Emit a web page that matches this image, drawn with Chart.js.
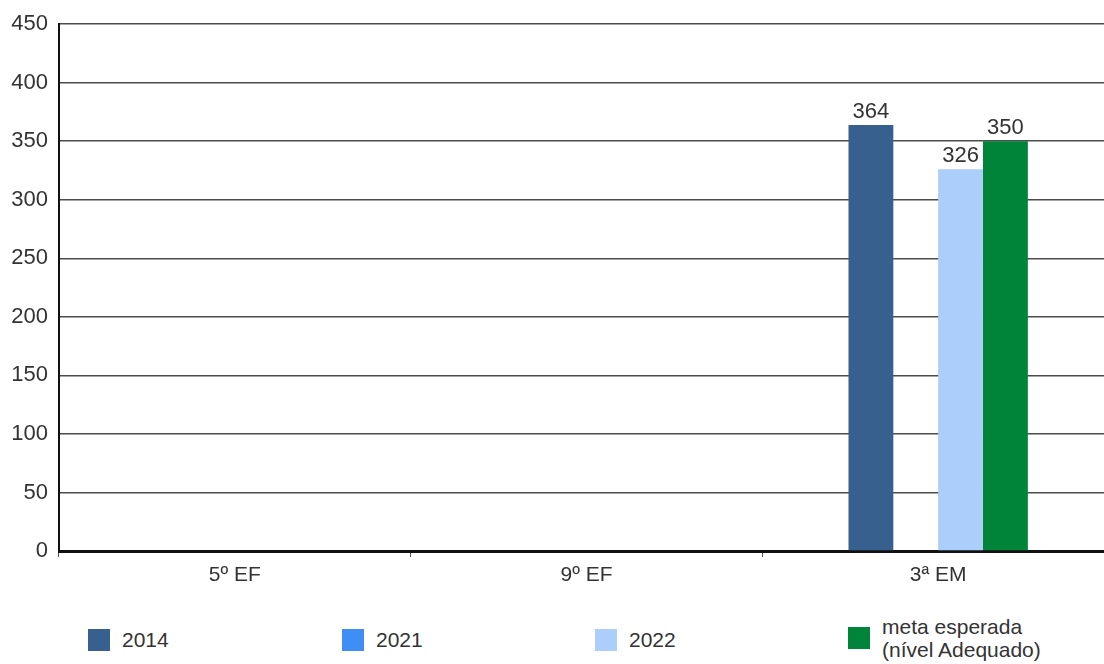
<!DOCTYPE html>
<html>
<head>
<meta charset="utf-8">
<script src="https://cdn.jsdelivr.net/npm/chart.js@4"></script>
<style>
  html, body { margin: 0; padding: 0; background: #fff; overflow: hidden; width: 1104px; height: 664px; }
  #wrap { position: relative; width: 1114px; height: 600px; }
  #legend { position: absolute; top: 617px; left: 0; width: 1104px; height: 47px;
    font-family: "Liberation Sans", Arial, sans-serif; font-size: 21px; color: #333; }
  .item { position: absolute; display: flex; align-items: center; }
  .box { width: 22px; height: 22px; margin-right: 12px; }
  .txt { line-height: 23px; }
</style>
</head>
<body>
<div id="wrap"><canvas id="chart" width="1114" height="600"></canvas></div>
<div id="legend"></div>
<script>
const categories = ['5º EF', '9º EF', '3ª EM'];
const seriesNames = ['2014', '2021', '2022', 'meta esperada\n(nível Adequado)'];
const v2014 = [null, null, 364];
const v2021 = [null, null, null];
const v2022 = [null, null, 326];
const vMeta = [null, null, 350];
const colors = ['#38608f', '#3f8ef5', '#abcefa', '#00843a'];

const font = "'Liberation Sans', Arial, sans-serif";

// etiquetas de valor sobre las barras
const valueLabels = {
  id: 'valueLabels',
  afterDatasetsDraw(chart) {
    const ctx = chart.ctx;
    ctx.save();
    ctx.font = '22px ' + font;
    ctx.fillStyle = '#333';
    ctx.textAlign = 'center';
    ctx.textBaseline = 'bottom';
    chart.data.datasets.forEach((ds, i) => {
      const meta = chart.getDatasetMeta(i);
      meta.data.forEach((bar, j) => {
        const v = ds.data[j];
        if (v == null) return;
        ctx.fillText(String(v), bar.x, bar.y - 2);
      });
    });
    ctx.restore();
  }
};

const ctx = document.getElementById('chart').getContext('2d');
const chart = new Chart(ctx, {
  type: 'bar',
  data: {
    labels: categories,
    datasets: [v2014, v2021, v2022, vMeta].map((d, i) => ({
      label: seriesNames[i],
      data: d,
      backgroundColor: colors[i],
      borderWidth: 0,
      categoryPercentage: 0.51,
      barPercentage: 1
    }))
  },
  options: {
    responsive: false,
    animation: false,
    layout: { padding: { top: 24, left: 0, right: 0, bottom: 0 } },
    plugins: { legend: { display: false }, tooltip: { enabled: false } },
    scales: {
      x: {
        grid: { offset: true, drawOnChartArea: false, drawTicks: true, tickLength: 6, color: '#555', lineWidth: 1 },
        border: { color: '#111', width: 3 },
        ticks: { color: '#333', font: { family: font, size: 21 }, padding: 6 },
        afterFit: s => { s.height = 49; }
      },
      y: {
        min: 0, max: 450,
        grid: { color: '#4d4d4d', lineWidth: 1.6, drawTicks: false },
        border: { color: '#111', width: 2 },
        ticks: { stepSize: 50, color: '#333', font: { family: font, size: 22 }, padding: 11 },
        afterFit: s => { s.width = 59; }
      }
    }
  },
  plugins: [valueLabels]
});

// leyenda
const legend = document.getElementById('legend');
const legendX = [88, 342, 595, 848];
seriesNames.forEach((name, i) => {
  const item = document.createElement('div');
  item.className = 'item';
  item.style.left = legendX[i] + 'px';
  item.style.top = (i === 3 ? -2 : 11) + 'px';
  const box = document.createElement('div');
  box.className = 'box';
  box.style.background = colors[i];
  const txt = document.createElement('div');
  txt.className = 'txt';
  txt.innerHTML = name.replace('\n', '<br>');
  item.appendChild(box);
  item.appendChild(txt);
  legend.appendChild(item);
});
</script>
</body>
</html>
